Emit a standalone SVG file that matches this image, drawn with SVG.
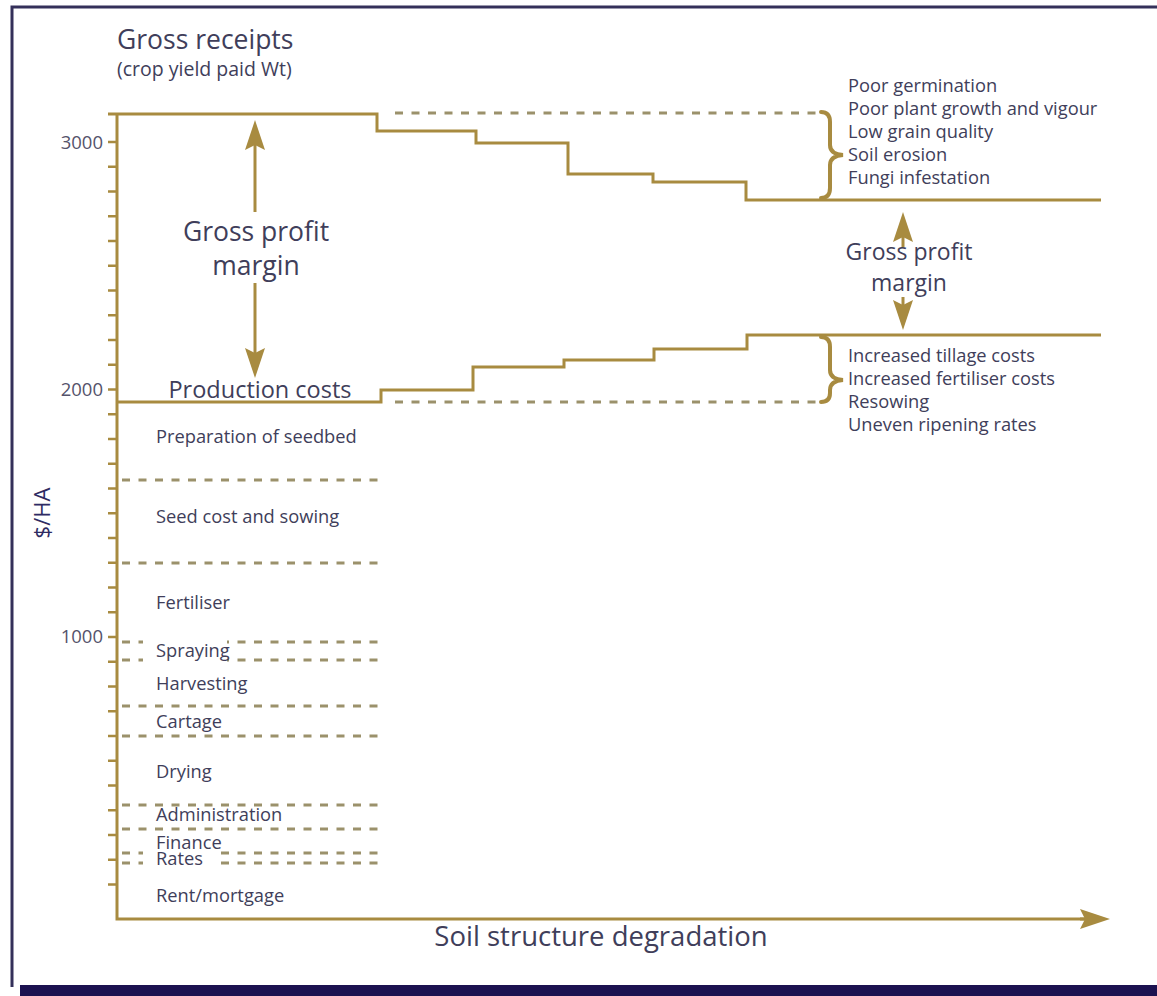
<svg xmlns="http://www.w3.org/2000/svg" width="1157" height="996" viewBox="0 0 1157 996">
<defs>
<style>
.gold{fill:none;stroke:#a88b40;stroke-width:3}
.brace{fill:none;stroke:#a88b40;stroke-width:4;stroke-linecap:round}
.dash{fill:none;stroke:#9b916b;stroke-width:3;stroke-dasharray:8 8.5}
.tick{fill:none;stroke:#a88b40;stroke-width:2.5}
.t{font-family:"Open Sans","Noto Sans",sans-serif;fill:#403e5a}
.s16{font-size:18.3px}
.ax{font-family:"Open Sans","Noto Sans",sans-serif;fill:#55536b;font-size:18.5px;text-anchor:end}
.big{font-size:26.5px;text-anchor:middle}
</style>
<marker id="ah" viewBox="0 0 30 20" refX="5" refY="10" markerWidth="30" markerHeight="20" markerUnits="userSpaceOnUse" orient="auto">
<path d="M0,0 L30,10 L0,20 L5,10 Z" fill="#a88b40"/>
</marker>
</defs>
<rect width="1157" height="996" fill="#ffffff"/>

<g id="frame">
<path d="M12,987 V7 H1157" fill="none" stroke="#34305a" stroke-width="3"/>
<rect x="20" y="985" width="1137" height="11" fill="#1c1250"/>
</g>

<g id="axes">
<path class="gold" d="M117,113 V919 H1085"/>
<path class="tick" d="M108,142H117M108,166.75H117M108,191.5H117M108,216.25H117M108,241H117M108,265.75H117M108,290.5H117M108,315.25H117M108,340H117M108,364.75H117M108,389.5H117M108,414.25H117M108,439H117M108,463.75H117M108,488.5H117M108,513.25H117M108,538H117M108,562.75H117M108,587.5H117M108,612.25H117M108,637H117M108,661.75H117M108,686.5H117M108,711.25H117M108,736H117M108,760.75H117M108,785.5H117M108,810.25H117M108,835H117M108,859.75H117M108,884.5H117"/>
<text class="ax" x="103" y="149">3000</text>
<text class="ax" x="103" y="396">2000</text>
<text class="ax" x="103" y="643">1000</text>
<text class="t" x="0" y="0" font-size="22" text-anchor="middle" transform="translate(50,513) rotate(-90)" style="fill:#2e2b63">$/HA</text>
<text class="t" x="601" y="946" font-size="27.5" text-anchor="middle">Soil structure degradation</text>
</g>

<g id="gross-receipts">
<path class="gold" d="M108,114 H377 V131 H476 V143 H568 V174 H653 V182 H746 V200 H1101"/>
<path class="dash" d="M395,113 H821"/>
<path class="brace" d="M821,112 Q830,112 830,122 V145 Q830,154 843,155 Q830,156 830,165 V188 Q830,198 821,198"/>
<text class="t" x="117" y="49" font-size="26.5">Gross receipts</text>
<text class="t" x="117" y="76" font-size="19.5">(crop yield paid Wt)</text>
<text class="t s16" x="848" y="92">Poor germination</text>
<text class="t s16" x="848" y="115">Poor plant growth and vigour</text>
<text class="t s16" x="848" y="138">Low grain quality</text>
<text class="t s16" x="848" y="161">Soil erosion</text>
<text class="t s16" x="848" y="184">Fungi infestation</text>
</g>

<g id="production-costs">
<path class="gold" d="M117,402 H381 V390 H473 V367 H564 V360 H654 V349 H747 V335 H1101"/>
<path class="dash" d="M395,402 H821"/>
<path class="brace" d="M821,337 Q830,337 830,347 V370 Q830,379 843,380 Q830,381 830,390 V393 Q830,402 821,402"/>
<text class="t" x="260" y="398" font-size="23.5" text-anchor="middle">Production costs</text>
<text class="t s16" x="848" y="362">Increased tillage costs</text>
<text class="t s16" x="848" y="385">Increased fertiliser costs</text>
<text class="t s16" x="848" y="408">Resowing</text>
<text class="t s16" x="848" y="431">Uneven ripening rates</text>
</g>

<g id="cost-breakdown">
<path class="dash" d="M122,480H381M122,563H381M122,642H381M122,660H381M122,706H381M122,736H381M122,805H381M122,829H381M122,853H381M122,863H381"/>
<rect x="143" y="640" width="84" height="22" fill="#ffffff"/>
<rect x="143" y="851" width="70" height="14" fill="#ffffff"/>
<text class="t s16" x="156" y="443">Preparation of seedbed</text>
<text class="t s16" x="156" y="523">Seed cost and sowing</text>
<text class="t s16" x="156" y="609">Fertiliser</text>
<text class="t s16" x="156" y="657">Spraying</text>
<text class="t s16" x="156" y="690">Harvesting</text>
<text class="t s16" x="156" y="728">Cartage</text>
<text class="t s16" x="156" y="778">Drying</text>
<text class="t s16" x="156" y="821">Administration</text>
<text class="t s16" x="156" y="849">Finance</text>
<text class="t s16" x="156" y="865">Rates</text>
<text class="t s16" x="156" y="902">Rent/mortgage</text>
</g>

<g id="margin-left">
<text class="t big" x="256" y="241">Gross profit</text>
<text class="t big" x="256" y="275">margin</text>
</g>

<g id="margin-right">
<text class="t" x="909" y="260" font-size="23" text-anchor="middle">Gross profit</text>
<text class="t" x="909" y="291" font-size="23" text-anchor="middle">margin</text>
</g>

<g id="connectors">
<line class="gold" x1="255" y1="212" x2="255" y2="145" marker-end="url(#ah)"/>
<line class="gold" x1="255" y1="283" x2="255" y2="353" marker-end="url(#ah)"/>
<line class="gold" x1="903" y1="247" x2="903" y2="237" marker-end="url(#ah)"/>
<line class="gold" x1="903" y1="297" x2="903" y2="305" marker-end="url(#ah)"/>
<line class="gold" x1="1080" y1="919" x2="1085" y2="919" marker-end="url(#ah)"/>
</g>
</svg>
